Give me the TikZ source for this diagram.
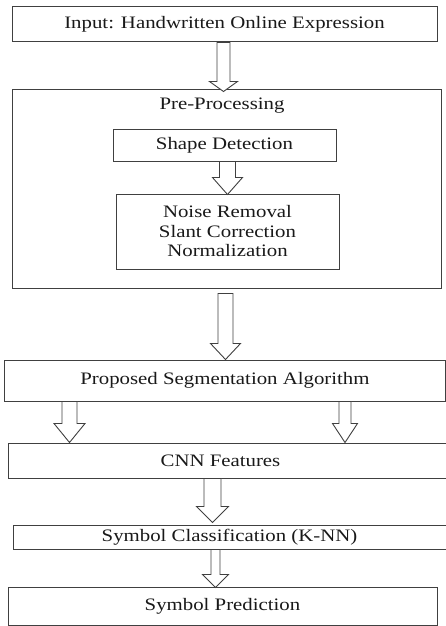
\documentclass[tikz,border=0pt]{standalone}
\usepackage{fontspec}
\setmainfont[FakeStretch=1.19]{Liberation Serif}
\usetikzlibrary{calc}
\tikzset{
  stage/.style={draw=black!75, line width=1pt, fill=white, inner sep=0pt,
    font=\fontsize{17.5}{19.5}\selectfont, text=black!90, align=center},
  barrow/.style={draw=black!75, line width=0.9pt, fill=white, line join=miter},
}
% hollow block arrow: from, to, shaft half-width, head half-width, head length
\newcommand\blockarrow[5]{%
  \draw[barrow] let \p1=(#1), \p2=(#2) in
    (\x1-#3,\y1) -- (\x1-#3,\y2+#5) -- (\x1-#4,\y2+#5) -- (\x1,\y2)
    -- (\x1+#4,\y2+#5) -- (\x1+#3,\y2+#5) -- (\x1+#3,\y1) -- cycle;}
\begin{document}
\begin{tikzpicture}[x=1pt,y=-1pt]
\useasboundingbox (0,0) rectangle (446,626);

\node[stage, minimum width=425pt, minimum height=35pt] (input) at (224.5,24.5)
  {Input: Handwritten Online Expression};
\node[stage, minimum width=429pt, minimum height=199pt] (pre) at (226.5,188.5) {};
\node[stage, draw=none, fill=none] (pretitle) at (222,106) {Pre-Processing};
\node[stage, minimum width=223pt, minimum height=32pt] (shape) at (224.5,145)
  {Shape Detection};
\node[stage, minimum width=223pt, minimum height=75pt] (noise) at (227.5,231.5)
  {Noise Removal\\Slant Correction\\Normalization};
\node[stage, minimum width=441pt, minimum height=41pt] (seg) at (225,380.5)
  {Proposed Segmentation Algorithm};
\node[stage, minimum width=438pt, minimum height=35pt] (cnn) at (227,460.5) {};
\node[stage, draw=none, fill=none] (cnntext) at (220.5,460.5) {CNN Features};
\node[stage, minimum width=433pt, minimum height=24pt] (cls) at (229.5,537)
  {Symbol Classification (K-NN)};
\node[stage, minimum width=429pt, minimum height=38pt] (pred) at (222.5,606)
  {Symbol Prediction};

% arrow anchor points along the box edges
\coordinate (a1s) at (input.south -| 223.5,0);
\coordinate (a1e) at ($(pre.north -| 223.5,0)+(0,3)$);
\coordinate (a2s) at (shape.south -| 227.5,0);
\coordinate (a2e) at ($(noise.north -| 227.5,0)+(0,1)$);
\coordinate (a3s) at ($(pre.south -| 225.5,0)+(0,5)$);
\coordinate (a3e) at (seg.north -| 225.5,0);
\coordinate (a4s) at (seg.south -| 69.5,0);
\coordinate (a4e) at (cnn.north -| 69.5,0);
\coordinate (a5s) at (seg.south -| 345,0);
\coordinate (a5e) at (cnn.north -| 345,0);
\coordinate (a6s) at (cnn.south -| 212.5,0);
\coordinate (a6e) at ($(cls.north -| 212.5,0)+(0,-2)$);
\coordinate (a7s) at (cls.south -| 215.5,0);
\coordinate (a7e) at ($(pred.north -| 215.5,0)+(0,1)$);

\blockarrow{a1s}{a1e}{6.5pt}{14pt}{10pt}
\blockarrow{a2s}{a2e}{8pt}{15pt}{17pt}
\blockarrow{a3s}{a3e}{7.5pt}{15pt}{16pt}
\blockarrow{a4s}{a4e}{7.5pt}{15.5pt}{19pt}
\blockarrow{a5s}{a5e}{6pt}{12.5pt}{19pt}
\blockarrow{a6s}{a6e}{8.5pt}{16pt}{16pt}
\blockarrow{a7s}{a7e}{4.5pt}{13pt}{13pt}
\end{tikzpicture}
\end{document}
